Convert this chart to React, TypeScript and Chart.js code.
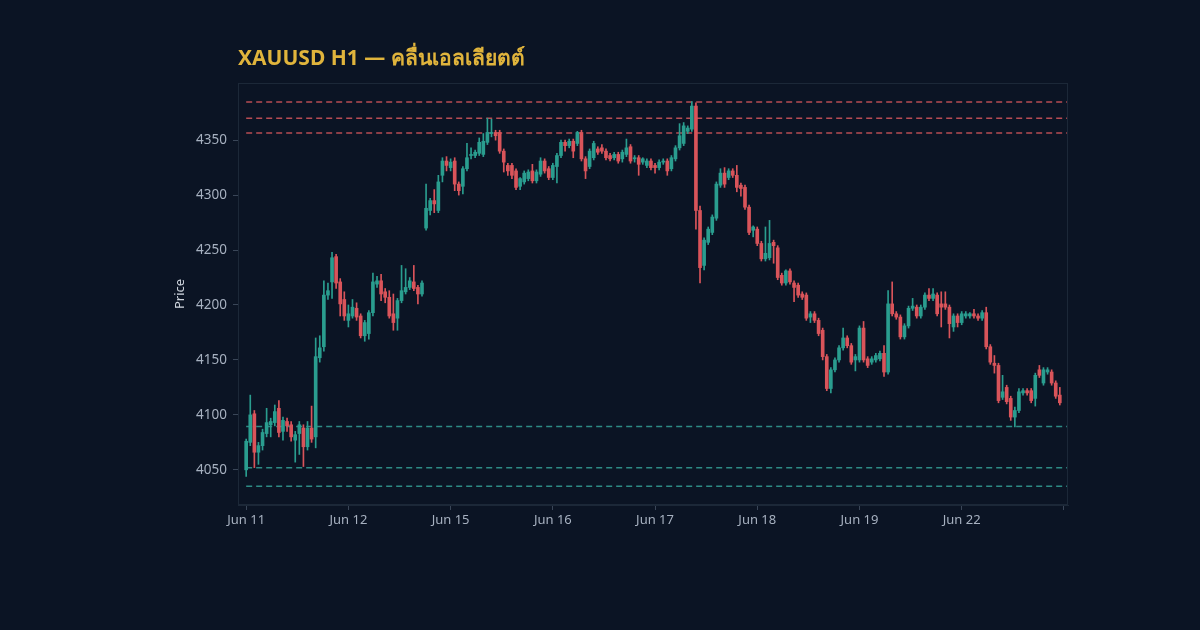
import React, { useEffect, useRef } from 'react';
import { Chart, registerables } from 'chart.js';

Chart.register(...registerables);

// ---- data (hourly candles, index-based x axis) ----
const opens = [
  4050, 4075, 4101, 4066, 4072, 4083, 4091, 4093, 4106, 4085, 4094, 4091, 4077, 4083, 4088, 4071, 4088, 4080, 4152, 4162,
  4209, 4221, 4244, 4221, 4205, 4186, 4190, 4197, 4190, 4172, 4174, 4193, 4219, 4222, 4212, 4207, 4192, 4188, 4204, 4212,
  4216, 4221, 4216, 4210, 4270, 4286, 4295, 4286, 4318, 4331, 4325, 4331, 4310, 4308, 4324, 4336, 4336, 4338, 4337, 4348,
  4356, 4357, 4357, 4340, 4327, 4327, 4322, 4308, 4312, 4315, 4322, 4313, 4319, 4331, 4324, 4316, 4326, 4336, 4348, 4345,
  4349, 4347, 4357, 4333, 4326, 4334, 4342, 4343, 4340, 4336, 4334, 4337, 4333, 4337, 4344, 4333, 4334, 4330, 4327, 4331,
  4327, 4325, 4330, 4331, 4324, 4333, 4343, 4347, 4358, 4360, 4381, 4286, 4236, 4257, 4266, 4279, 4309, 4320, 4316, 4322,
  4318, 4309, 4307, 4289, 4268, 4269, 4256, 4242, 4243, 4257, 4252, 4227, 4220, 4231, 4220, 4218, 4210, 4209, 4189, 4192,
  4186, 4177, 4153, 4124, 4141, 4150, 4161, 4170, 4163, 4150, 4150, 4179, 4151, 4148, 4150, 4151, 4156, 4139, 4201, 4192,
  4189, 4171, 4181, 4197, 4198, 4190, 4198, 4209, 4206, 4209, 4201, 4201, 4198, 4180, 4190, 4184, 4190, 4190, 4192, 4190,
  4188, 4193, 4162, 4147, 4145, 4116, 4125, 4115, 4098, 4104, 4120, 4122, 4122, 4115, 4141, 4129, 4139, 4139, 4129, 4118,
];
const highs = [
  4078, 4118, 4104, 4075, 4087, 4106, 4097, 4109, 4113, 4098, 4097, 4094, 4085, 4094, 4091, 4094, 4108, 4170, 4172, 4222,
  4220, 4248, 4246, 4224, 4212, 4200, 4205, 4202, 4192, 4186, 4195, 4229, 4226, 4228, 4215, 4213, 4210, 4206, 4236, 4233,
  4225, 4236, 4218, 4222, 4310, 4297, 4305, 4318, 4334, 4335, 4333, 4334, 4312, 4326, 4347, 4343, 4341, 4352, 4356, 4370,
  4369, 4359, 4359, 4342, 4329, 4329, 4324, 4316, 4322, 4323, 4328, 4323, 4334, 4333, 4326, 4329, 4338, 4350, 4350, 4351,
  4351, 4358, 4359, 4335, 4342, 4349, 4344, 4346, 4342, 4338, 4339, 4339, 4341, 4351, 4346, 4336, 4336, 4334, 4333, 4333,
  4329, 4332, 4333, 4333, 4336, 4345, 4365, 4366, 4363, 4385, 4384, 4290, 4261, 4271, 4282, 4312, 4324, 4325, 4324, 4324,
  4327, 4311, 4309, 4291, 4272, 4271, 4258, 4271, 4277, 4259, 4254, 4229, 4232, 4233, 4222, 4220, 4212, 4211, 4194, 4194,
  4188, 4179, 4155, 4143, 4152, 4163, 4179, 4172, 4165, 4155, 4181, 4185, 4153, 4153, 4156, 4158, 4163, 4213, 4221, 4194,
  4191, 4183, 4199, 4206, 4200, 4200, 4211, 4215, 4215, 4211, 4212, 4212, 4200, 4192, 4192, 4194, 4194, 4193, 4196, 4192,
  4195, 4198, 4164, 4154, 4147, 4136, 4127, 4117, 4107, 4124, 4124, 4124, 4124, 4138, 4145, 4143, 4143, 4141, 4131, 4125,
];
const lows = [
  4044, 4072, 4052, 4055, 4068, 4080, 4080, 4090, 4080, 4077, 4085, 4076, 4057, 4064, 4053, 4068, 4075, 4070, 4148, 4158,
  4205, 4206, 4215, 4190, 4186, 4180, 4188, 4186, 4170, 4167, 4169, 4190, 4216, 4204, 4202, 4188, 4177, 4177, 4202, 4210,
  4214, 4213, 4201, 4208, 4268, 4282, 4284, 4284, 4312, 4322, 4322, 4304, 4300, 4301, 4322, 4333, 4334, 4336, 4335, 4346,
  4353, 4350, 4338, 4321, 4318, 4315, 4305, 4305, 4310, 4313, 4311, 4311, 4317, 4320, 4314, 4314, 4311, 4334, 4340, 4343,
  4334, 4345, 4331, 4315, 4324, 4332, 4337, 4338, 4332, 4331, 4332, 4329, 4330, 4335, 4329, 4330, 4318, 4328, 4325, 4323,
  4320, 4323, 4328, 4318, 4322, 4331, 4341, 4345, 4356, 4358, 4269, 4220, 4232, 4255, 4264, 4277, 4307, 4307, 4314, 4316,
  4303, 4299, 4287, 4264, 4262, 4254, 4240, 4240, 4241, 4238, 4223, 4218, 4218, 4219, 4203, 4207, 4205, 4186, 4184, 4184,
  4172, 4150, 4122, 4120, 4139, 4148, 4159, 4161, 4146, 4140, 4148, 4148, 4143, 4146, 4148, 4149, 4135, 4137, 4190, 4187,
  4169, 4169, 4179, 4195, 4188, 4188, 4196, 4204, 4204, 4190, 4180, 4196, 4170, 4176, 4180, 4182, 4188, 4188, 4188, 4186,
  4186, 4160, 4146, 4138, 4111, 4114, 4110, 4095, 4089, 4102, 4118, 4118, 4111, 4108, 4134, 4127, 4137, 4127, 4115, 4109,
];
const closes = [
  4076, 4100, 4066, 4072, 4084, 4093, 4094, 4103, 4084, 4095, 4090, 4080, 4082, 4091, 4071, 4088, 4078, 4153, 4161, 4209,
  4213, 4243, 4220, 4201, 4190, 4192, 4198, 4189, 4172, 4184, 4193, 4221, 4222, 4210, 4207, 4190, 4184, 4204, 4213, 4216,
  4222, 4215, 4210, 4220, 4288, 4295, 4292, 4312, 4331, 4327, 4330, 4310, 4304, 4324, 4334, 4337, 4339, 4348, 4349, 4357,
  4357, 4354, 4340, 4330, 4322, 4318, 4307, 4315, 4320, 4321, 4313, 4321, 4331, 4322, 4316, 4327, 4336, 4348, 4345, 4349,
  4340, 4357, 4333, 4322, 4340, 4347, 4339, 4340, 4334, 4333, 4337, 4331, 4339, 4343, 4331, 4334, 4328, 4333, 4331, 4325,
  4325, 4330, 4331, 4322, 4334, 4343, 4354, 4363, 4361, 4381, 4286, 4234, 4259, 4269, 4280, 4310, 4320, 4310, 4322, 4318,
  4307, 4306, 4289, 4266, 4271, 4256, 4242, 4247, 4256, 4254, 4225, 4220, 4231, 4221, 4216, 4209, 4207, 4188, 4192, 4186,
  4174, 4153, 4124, 4141, 4150, 4161, 4170, 4163, 4148, 4153, 4179, 4150, 4145, 4151, 4154, 4156, 4139, 4201, 4192, 4189,
  4171, 4181, 4197, 4199, 4190, 4198, 4209, 4206, 4210, 4192, 4198, 4198, 4183, 4190, 4184, 4192, 4192, 4192, 4190, 4188,
  4193, 4162, 4148, 4145, 4113, 4121, 4112, 4098, 4104, 4121, 4122, 4120, 4113, 4136, 4136, 4141, 4141, 4129, 4117, 4111,
];

const dayLabels = ['Jun 11', 'Jun 12', 'Jun 15', 'Jun 16', 'Jun 17', 'Jun 18', 'Jun 19', 'Jun 22', ''];
const candlesPerDay = 25;
const priceTicks = [4050, 4100, 4150, 4200, 4250, 4300, 4350];
const resistanceLevels = [4384.6, 4370, 4356.5];
const supportLevels = [4089.5, 4052, 4035];
const titleText = 'XAUUSD H1 — คลื่นเอลเลียตต์';
const yAxisTitle = 'Price';

const BG = '#0b1424';
const UP = '#2a9d8f';
const DOWN = '#d9545a';
const RES_COLOR = 'rgba(214, 86, 92, 0.85)';
const SUP_COLOR = 'rgba(52, 160, 150, 0.85)';
const FONT = "'Noto Sans', 'DejaVu Sans', sans-serif";

export default function App() {
  const ref = useRef<HTMLCanvasElement | null>(null);

  useEffect(() => {
    const canvas = ref.current;
    if (!canvas) return;
    const n = opens.length;
    const xMin = -2;
    const xMax = n + 1;
    const colors = opens.map((o, i) => (closes[i] >= o ? UP : DOWN));

    const levelLine = (y: number, color: string) => ({
      type: 'line' as const,
      data: [
        { x: 0, y },
        { x: xMax, y },
      ],
      borderColor: color,
      borderWidth: 1.5,
      borderDash: [6, 4],
      pointRadius: 0,
      fill: false,
      order: 3,
    });

    const frame = {
      id: 'frameAndTitle',
      beforeDraw(chart: any) {
        const { ctx } = chart;
        ctx.save();
        ctx.fillStyle = BG;
        ctx.fillRect(0, 0, chart.width, chart.height);
        ctx.restore();
      },
      afterDraw(chart: any) {
        const { ctx, chartArea } = chart;
        ctx.save();
        ctx.strokeStyle = '#1c2838';
        ctx.lineWidth = 1;
        ctx.strokeRect(chartArea.left + 0.5, chartArea.top + 0.5, chartArea.right - chartArea.left - 1, chartArea.bottom - chartArea.top - 1);
        ctx.fillStyle = '#e0b43c';
        ctx.font = `bold 21px ${FONT}`;
        ctx.textBaseline = 'middle';
        ctx.textAlign = 'left';
        ctx.fillText(titleText, chartArea.left, 59);
        ctx.restore();
      },
    };

    const chart = new Chart(canvas, {
      type: 'bar',
      data: {
        datasets: [
          {
            type: 'bar',
            data: opens.map((o, i) => ({ x: i, y: [o, closes[i]] })) as any,
            backgroundColor: colors,
            borderWidth: 0,
            barThickness: 3,
            minBarLength: 1,
            grouped: false,
            order: 0,
          } as any,
          {
            type: 'bar',
            data: lows.map((l, i) => ({ x: i, y: [l, highs[i]] })) as any,
            backgroundColor: colors,
            borderWidth: 0,
            barThickness: 1,
            grouped: false,
            order: 1,
          } as any,
          ...resistanceLevels.map((v) => levelLine(v, RES_COLOR)),
          ...supportLevels.map((v) => levelLine(v, SUP_COLOR)),
        ] as any,
      },
      options: {
        responsive: false,
        animation: false,
        devicePixelRatio: 1,
        layout: { padding: { left: 172, right: 132, top: 83, bottom: 95 } },
        plugins: {
          legend: { display: false },
          tooltip: { enabled: false },
          title: { display: false },
        },
        scales: {
          x: {
            type: 'linear',
            min: xMin,
            max: xMax,
            offset: false,
            grid: { display: true, offset: false, drawOnChartArea: false, drawTicks: true, tickLength: 5, color: '#3a4658' },
            border: { display: true, color: '#1c2838' },
            ticks: {
              color: '#a7b1c0',
              font: { family: FONT, size: 13 },
              padding: 2,
              maxRotation: 0,
              autoSkip: false,
              callback: (v: any) => {
                const k = Math.round(Number(v) / candlesPerDay);
                return dayLabels[k] ?? '';
              },
            },
            afterBuildTicks: (scale: any) => {
              scale.ticks = dayLabels.map((_, k) => ({ value: k * candlesPerDay }));
            },
            afterFit: (scale: any) => {
              scale.height = 30;
            },
          },
          y: {
            type: 'linear',
            min: 4018,
            max: 4402,
            grid: { display: true, offset: false, drawOnChartArea: false, drawTicks: true, tickLength: 5, color: '#3a4658' },
            border: { display: true, color: '#1c2838' },
            title: {
              display: true,
              text: yAxisTitle,
              color: '#d0d6df',
              font: { family: FONT, size: 13 },
              padding: { top: 0, bottom: 4 },
            },
            ticks: {
              color: '#a7b1c0',
              font: { family: FONT, size: 13.5 },
              padding: 6,
              callback: (v: any) => String(v),
            },
            afterBuildTicks: (scale: any) => {
              scale.ticks = priceTicks.map((v) => ({ value: v }));
            },
            afterFit: (scale: any) => {
              scale.width = 66;
            },
          },
        },
      } as any,
      plugins: [frame],
    });

    return () => chart.destroy();
  }, []);

  return (
    <div style={{ position: 'fixed', left: 0, top: 0, width: 1200, height: 630, background: BG }}>
      <canvas ref={ref} width={1200} height={630} style={{ width: 1200, height: 630, display: 'block' }} />
    </div>
  );
}
